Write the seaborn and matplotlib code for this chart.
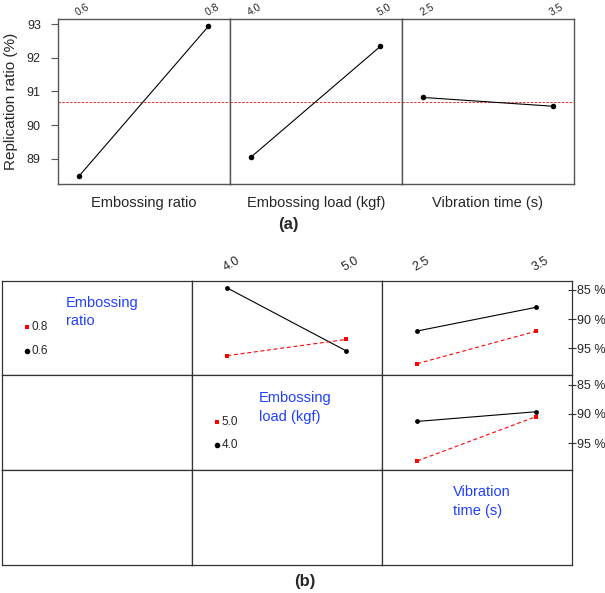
import pandas as pd
import matplotlib
matplotlib.use('Agg')
import matplotlib.pyplot as plt
import seaborn as sns

# main effects (top panel)
ratio_levels = [0.6, 0.8]
ratio_means = [88.48, 92.93]
load_levels = [4.0, 5.0]
load_means = [89.05, 92.34]
time_levels = [2.5, 3.5]
time_means = [90.82, 90.56]
grand_mean = 90.7
factor_names = ['Embossing ratio', 'Embossing load (kgf)', 'Vibration time (s)']

# interaction values (bottom panel)
ratio_x_load_06 = [84.7, 95.45]
ratio_x_load_08 = [96.27, 93.5]
ratio_x_time_06 = [92.05, 88.0]
ratio_x_time_08 = [97.65, 92.1]
load_x_time_40 = [91.3, 89.64]
load_x_time_50 = [98.07, 90.48]
right_ticks = [85, 90, 95]
right_ticklabels = ['85 %', '90 %', '95 %']

sns.set_style('white')
plt.rcParams['font.family'] = ['Liberation Sans', 'DejaVu Sans']

W, H = 605, 593
fig = plt.figure(figsize=(W / 100, H / 100), dpi=100)


def px_axes(x0, y0, x1, y1):
    # axes from pixel box (top-left origin)
    return fig.add_axes([x0 / W, 1 - y1 / H, (x1 - x0) / W, (y1 - y0) / H])


def style_spines(ax, color='#444444', lw=0.9):
    for s in ax.spines.values():
        s.set_visible(True)
        s.set_color(color)
        s.set_linewidth(lw)


def top_ticks(ax, ticks, pad=1.5, size=9):
    ax.set_xticks(ticks)
    ax.xaxis.tick_top()
    ax.set_xticklabels([f'{t:.1f}' for t in ticks], rotation=30, ha='left',
                       va='bottom', rotation_mode='anchor', fontsize=size)
    ax.tick_params(axis='x', length=0, pad=pad)


def pad_lim(levels, frac=0.165):
    span = levels[1] - levels[0]
    return levels[0] - frac * span, levels[1] + frac * span


# ---- (a) main effects ----
left, right, top, bottom = 57.5, 574, 19, 184
pw = (right - left) / 3
main = [(ratio_levels, ratio_means), (load_levels, load_means), (time_levels, time_means)]
for i, (lv, mv) in enumerate(main):
    ax = px_axes(left + i * pw, top, left + (i + 1) * pw, bottom)
    ax.axhline(grand_mean, color='#e03030', lw=0.7, ls=(0, (2.5, 1.5)), zorder=1)
    sns.lineplot(x=lv, y=mv, ax=ax, color='black', lw=0.8, marker='o',
                 markersize=4, markeredgewidth=0, zorder=3)
    ax.set_xlim(*pad_lim(lv))
    ax.set_ylim(88.25, 93.15)
    top_ticks(ax, lv, pad=1, size=7.5)
    if i == 0:
        ax.set_yticks([89, 90, 91, 92, 93])
        ax.tick_params(axis='y', length=5, width=0.8, pad=7, labelsize=9,
                       left=True, color='#555555')
        ax.set_ylabel('Replication ratio (%)', fontsize=11, labelpad=6)
    else:
        ax.set_yticks([])
        ax.set_ylabel('')
    ax.set_xlabel(factor_names[i], fontsize=10.5, labelpad=9)
    ax.xaxis.set_label_position('bottom')
    style_spines(ax, '#555555', 1.0)

fig.text(288.6 / W, 1 - 225 / H, '(a)', ha='center', va='center',
         fontsize=12, fontweight='bold')

# ---- (b) interactions ----
gl, gr, gt, gb = 2, 571.5, 280.5, 565
cw = (gr - gl) / 3
rh = (gb - gt) / 3
ylim = (99.65, 83.4)
blue = '#2040ff'

cells = {}
for r in range(3):
    for c in range(3):
        ax = px_axes(gl + c * cw, gt + r * rh, gl + (c + 1) * cw, gt + (r + 1) * rh)
        ax.set_xticks([])
        ax.set_yticks([])
        style_spines(ax, '#333333', 0.9)
        cells[(r, c)] = ax


def interaction(ax, xlev, ya, yb, la, lb):
    df = pd.DataFrame({'x': xlev + xlev, 'y': ya + yb,
                       'grp': [la, la, lb, lb]})
    sns.lineplot(data=df, x='x', y='y', hue='grp', style='grp', ax=ax,
                 palette={la: 'black', lb: 'red'},
                 markers={la: 'o', lb: 's'},
                 dashes={la: '', lb: (3.5, 2.5)},
                 lw=0.8, markersize=3.5, markeredgewidth=0, legend=False)
    ax.set_xlim(*pad_lim(xlev, 0.3))
    ax.set_ylim(*ylim)
    ax.set_xlabel('')
    ax.set_ylabel('')


interaction(cells[(0, 1)], load_levels, ratio_x_load_06, ratio_x_load_08, '0.6', '0.8')
interaction(cells[(0, 2)], time_levels, ratio_x_time_06, ratio_x_time_08, '0.6', '0.8')
interaction(cells[(1, 2)], time_levels, load_x_time_40, load_x_time_50, '4.0', '5.0')

top_ticks(cells[(0, 1)], load_levels, pad=5)
top_ticks(cells[(0, 2)], time_levels, pad=5)
cells[(1, 2)].set_xticks([])
cells[(0, 1)].set_yticks([])

for r in (0, 1):
    ax = cells[(r, 2)]
    ax.yaxis.tick_right()
    ax.set_yticks(right_ticks)
    ax.set_yticklabels(right_ticklabels, fontsize=9)
    ax.tick_params(axis='y', direction='inout', length=6, width=0.8, pad=1,
                   right=True, color='#333333')

# legend cells on diagonal
legend_cells = [
    (cells[(0, 0)], 'Embossing\nratio', (0.337, 0.84), '0.8', '0.6', 0.13, (0.505, 0.253)),
    (cells[(1, 1)], 'Embossing\nload (kgf)', (0.354, 0.83), '5.0', '4.0', 0.13, (0.506, 0.262)),
]
for ax, title, tpos, lab_hi, lab_lo, mx, (y_hi, y_lo) in legend_cells:
    ax.text(*tpos, title, transform=ax.transAxes, color=blue, fontsize=10.5,
            ha='left', va='top', linespacing=1.4)
    ax.plot([mx], [y_hi], marker='s', color='red', ms=3.5, mew=0,
            transform=ax.transAxes)
    ax.plot([mx], [y_lo], marker='o', color='black', ms=4, mew=0,
            transform=ax.transAxes)
    ax.text(mx + 0.025, y_hi, lab_hi, transform=ax.transAxes, fontsize=8.5, va='center')
    ax.text(mx + 0.025, y_lo, lab_lo, transform=ax.transAxes, fontsize=8.5, va='center')
    ax.set_xlim(0, 1)
    ax.set_ylim(0, 1)

cells[(2, 2)].text(0.378, 0.84, 'Vibration\ntime (s)', transform=cells[(2, 2)].transAxes,
                   color=blue, fontsize=10.5, ha='left', va='top', linespacing=1.4)

fig.text(304.8 / W, 1 - 581.7 / H, '(b)', ha='center', va='center',
         fontsize=12, fontweight='bold')

fig.savefig('out.png', dpi=100)
